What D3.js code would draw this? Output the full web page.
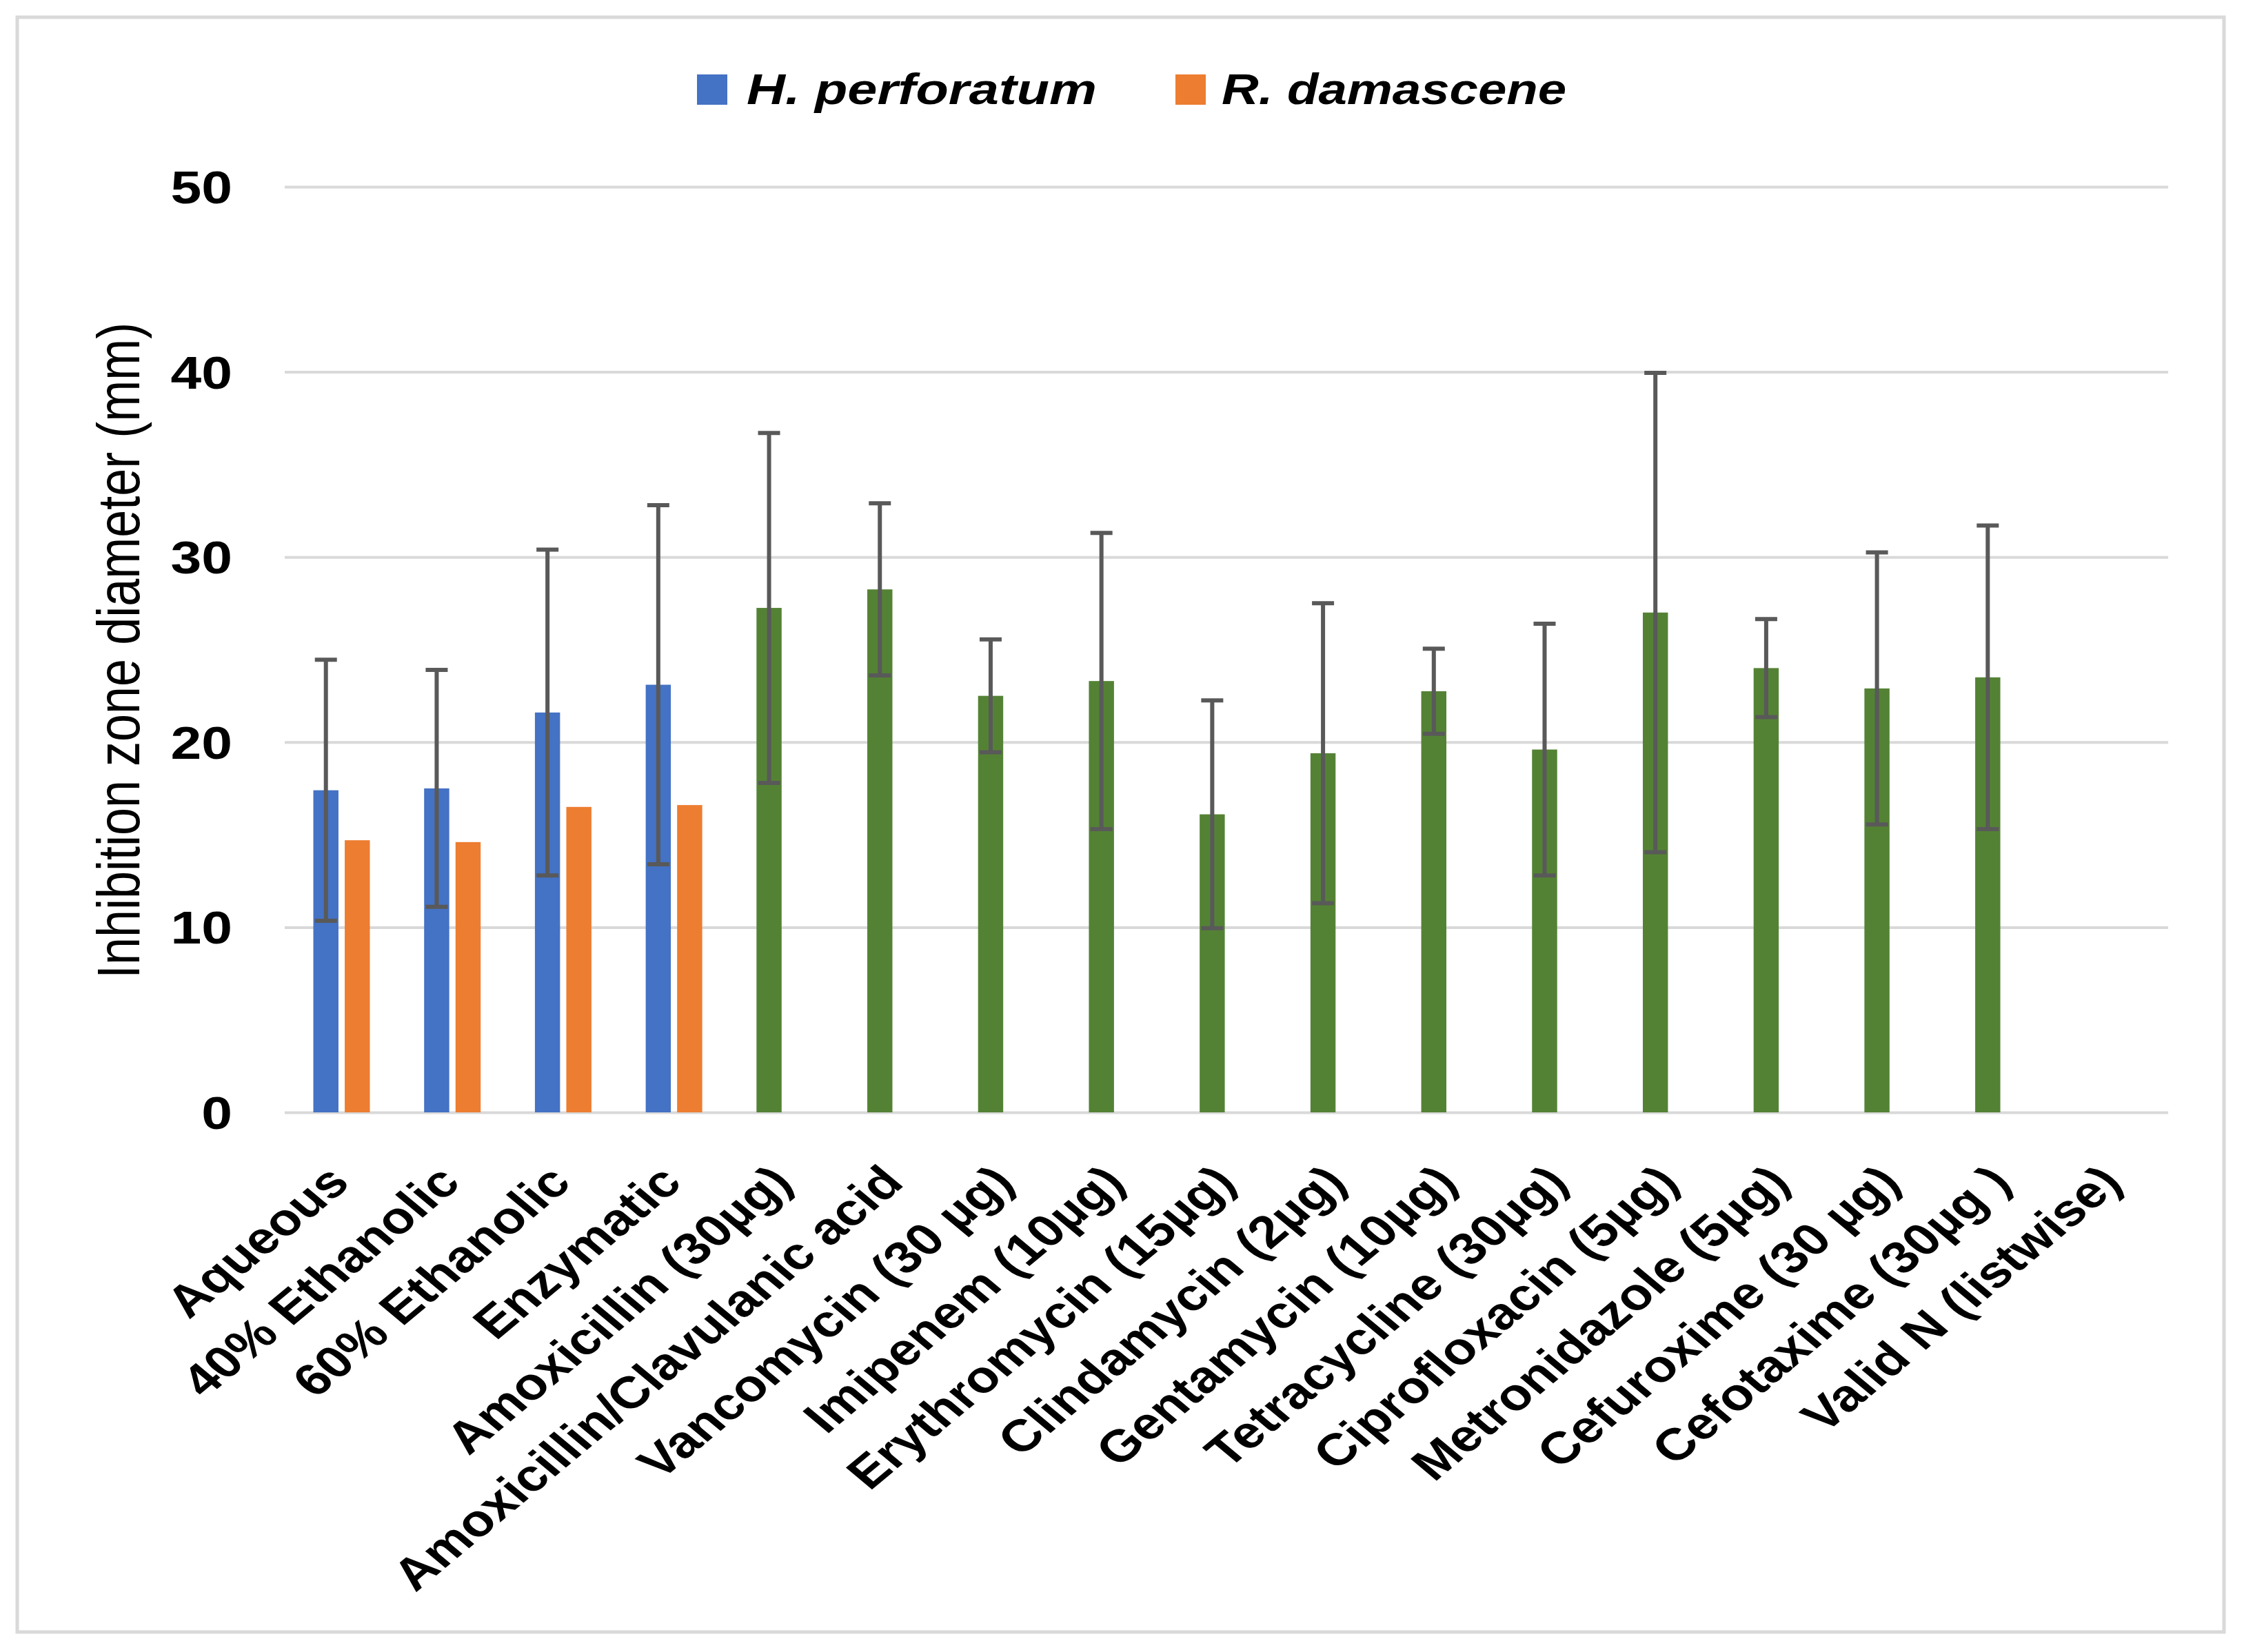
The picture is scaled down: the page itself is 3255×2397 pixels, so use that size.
<!DOCTYPE html>
<html>
<head>
<meta charset="utf-8">
<script src="https://cdn.jsdelivr.net/npm/d3@7/dist/d3.min.js"></script>
<style>
  html, body { margin: 0; padding: 0; background: #ffffff; }
  svg { display: block; }
</style>
</head>
<body>
<svg id="chart" width="3255" height="2397"></svg>
<script>
// ---------------- data ----------------
const categories = [
  "Aqueous", "40% Ethanolic", "60% Ethanolic", "Enzymatic",
  "Amoxicillin (30µg)", "Amoxicillin/Clavulanic acid", "Vancomycin (30 µg)",
  "Imipenem (10µg)", "Erythromycin (15µg)", "Clindamycin (2µg)",
  "Gentamycin (10µg)", "Tetracycline (30µg)", "Ciprofloxacin (5µg)",
  "Metronidazole (5µg)", "Cefuroxime (30 µg)", "Cefotaxime (30µg )",
  "Valid N (listwise)"
];
const seriesNames = ["H. perforatum", "R. damascene"];
// first series (H. perforatum extracts, then antibiotics drawn in green)
const hperfMean = [17.4, 17.5, 21.6, 23.1, 27.25, 28.25, 22.5, 23.3, 16.1, 19.4, 22.75, 19.6, 27.0, 24.0, 22.9, 23.5, null];
const hperfSD   = [7.05, 6.4, 8.8, 9.7, 9.45, 4.65, 3.05, 8.0, 6.15, 8.1, 2.3, 6.8, 12.95, 2.65, 7.35, 8.2, null];
const rdamMean  = [14.7, 14.6, 16.5, 16.6, null, null, null, null, null, null, null, null, null, null, null, null, null];
const pointGroup = ["extract", "extract", "extract", "extract",
  "antibiotic", "antibiotic", "antibiotic", "antibiotic", "antibiotic", "antibiotic",
  "antibiotic", "antibiotic", "antibiotic", "antibiotic", "antibiotic", "antibiotic", "none"];
const yTicks = [0, 10, 20, 30, 40, 50];

// ---------------- layout / style ----------------
const colors = { extract: "#4472C4", antibiotic: "#548235", rdam: "#ED7D31" };
const SX = 1.2;               // horizontal text stretch of the original picture
const FONT = "'Liberation Sans', Arial, sans-serif";
const plotL = 413, plotR = 3145, plotT = 271, plotB = 1614;

const svg = d3.select("#chart");

// outer frame
svg.append("rect").attr("x", 25).attr("y", 25).attr("width", 3201).attr("height", 2343)
  .attr("fill", "#ffffff").attr("stroke", "#D9D9D9").attr("stroke-width", 5);

const x = d3.scaleBand().domain(categories).range([plotL, plotR]);
const xSub = d3.scaleBand().domain(seriesNames).range([41.5, 123.5]).paddingInner(0.2);
const y = d3.scaleLinear().domain([0, 50]).range([plotB, plotT]);

// y axis with gridlines
const yAxis = svg.append("g").attr("transform", `translate(${plotL},0)`)
  .call(d3.axisLeft(y).tickValues(yTicks).tickSize(-(plotR - plotL)).tickPadding(0));
yAxis.select(".domain").remove();
yAxis.selectAll(".tick line").attr("stroke", "#D9D9D9").attr("stroke-width", 4);
yAxis.selectAll(".tick text")
  .attr("x", -76 / SX).attr("dy", "0.35em")
  .attr("transform", `scale(${SX},1)`)
  .attr("fill", "#000").attr("font-family", FONT).attr("font-weight", "bold")
  .attr("font-size", 67).attr("text-anchor", "end");

// bars
const rows = categories.map((c, i) => ({ c, i, h: hperfMean[i], sd: hperfSD[i], r: rdamMean[i], g: pointGroup[i] }));
const gBars = svg.append("g");
gBars.selectAll("rect.h").data(rows.filter(d => d.h != null)).join("rect")
  .attr("class", "h")
  .attr("x", d => x(d.c) + xSub(seriesNames[0]))
  .attr("width", xSub.bandwidth())
  .attr("y", d => y(d.h))
  .attr("height", d => y(0) - y(d.h))
  .attr("fill", d => colors[d.g]);
gBars.selectAll("rect.r").data(rows.filter(d => d.r != null)).join("rect")
  .attr("class", "r")
  .attr("x", d => x(d.c) + xSub(seriesNames[1]))
  .attr("width", xSub.bandwidth())
  .attr("y", d => y(d.r))
  .attr("height", d => y(0) - y(d.r))
  .attr("fill", colors.rdam);

// error bars
const capHalf = 16;
const gErr = svg.append("g").attr("stroke", "#595959").attr("stroke-width", 6).attr("fill", "none");
rows.filter(d => d.h != null).forEach(d => {
  const cx = x(d.c) + xSub(seriesNames[0]) + xSub.bandwidth() / 2;
  const yt = y(d.h + d.sd), yb = y(d.h - d.sd);
  gErr.append("line").attr("x1", cx).attr("x2", cx).attr("y1", yt).attr("y2", yb);
  gErr.append("line").attr("x1", cx - capHalf).attr("x2", cx + capHalf).attr("y1", yt).attr("y2", yt);
  gErr.append("line").attr("x1", cx - capHalf).attr("x2", cx + capHalf).attr("y1", yb).attr("y2", yb);
});

// category labels
const gX = svg.append("g");
categories.forEach(c => {
  const ex = x(c) + x.bandwidth() / 2 + 16.5;
  gX.append("text")
    .attr("transform", `translate(${ex},1719) scale(${SX},1) rotate(-45)`)
    .attr("text-anchor", "end")
    .attr("font-family", FONT).attr("font-weight", "bold").attr("font-size", 65)
    .attr("fill", "#000")
    .text(c);
});

// y axis title
svg.append("text")
  .attr("transform", `translate(202,944) scale(${SX},1) rotate(-90)`)
  .attr("text-anchor", "middle")
  .attr("font-family", FONT).attr("font-size", 72).attr("fill", "#000")
  .text("Inhibition zone diameter (mm)");

// legend
const legend = [
  { name: seriesNames[0], color: colors.extract, sx: 1011, tx: 1083, len: 508 },
  { name: seriesNames[1], color: colors.rdam, sx: 1705, tx: 1772, len: 500 }
];
legend.forEach(l => {
  svg.append("rect").attr("x", l.sx).attr("y", 108).attr("width", 44).attr("height", 44).attr("fill", l.color);
  svg.append("text")
    .attr("transform", `translate(${l.tx},151) scale(${SX},1)`)
    .attr("font-family", FONT).attr("font-weight", "bold").attr("font-style", "italic")
    .attr("font-size", 63).attr("fill", "#000")
    .attr("textLength", l.len / SX).attr("lengthAdjust", "spacingAndGlyphs")
    .text(l.name);
});
</script>
</body>
</html>
